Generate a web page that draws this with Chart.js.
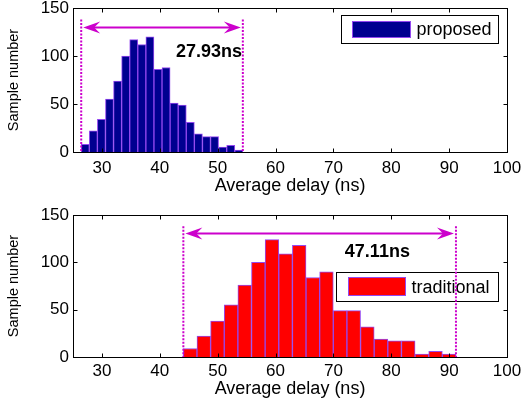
<!DOCTYPE html>
<html>
<head>
<meta charset="utf-8">
<script src="https://cdn.jsdelivr.net/npm/chart.js@4.4.1/dist/chart.umd.min.js"></script>
<style>
  html, body { margin: 0; padding: 0; background: #fff; }
  #wrap { position: relative; width: 521px; height: 402px; }
  canvas { position: absolute; left: 0; }
</style>
</head>
<body>
<div id="wrap">
  <canvas id="top" width="521" height="197" style="top:0"></canvas>
  <canvas id="bottom" width="521" height="202" style="top:200px"></canvas>
</div>
<script>
const xTicks = [30, 40, 50, 60, 70, 80, 90, 100];
const yTicks = [0, 50, 100, 150];

// 20 histogram bins per series, spread over the measured delay range
const proposedRange = [26.42, 54.35];
const proposedCounts = [8, 22, 34, 55, 74, 100, 117, 112, 120, 86, 88, 51, 49, 31, 19, 16, 16, 5, 7, 2];
const traditionalRange = [44.07, 91.18];
const traditionalCounts = [9, 22, 38, 55, 76, 100, 124, 109, 118, 84, 90, 49, 49, 32, 19, 17, 17, 3, 6, 3];

const FONT = "'Liberation Sans', Arial, sans-serif";
const MAGENTA = '#cc00cc';

function binPoints(range, counts) {
  const w = (range[1] - range[0]) / counts.length;
  return counts.map((c, i) => ({ x: range[0] + w * (i + 0.5), y: c }));
}

function line(ctx, x0, y0, x1, y1) {
  ctx.beginPath();
  ctx.moveTo(x0, y0);
  ctx.lineTo(x1, y1);
  ctx.stroke();
}

function arrowHead(ctx, tipX, y, dir) {
  // dir = -1 points left, +1 points right
  ctx.beginPath();
  ctx.moveTo(tipX, y);
  ctx.lineTo(tipX - dir * 17, y - 6);
  ctx.lineTo(tipX - dir * 11, y);
  ctx.lineTo(tipX - dir * 17, y + 6);
  ctx.closePath();
  ctx.fill();
}

const decor = {
  id: 'decor',
  afterDraw(chart, args, o) {
    const { ctx, chartArea: a, scales: { x, y } } = chart;
    ctx.save();

    // axes box with inward ticks
    ctx.strokeStyle = '#000';
    ctx.lineWidth = 1;
    const L = Math.round(a.left) + 0.5, R = Math.round(a.right) + 0.5;
    const T = Math.round(a.top) + 0.5, B = Math.round(a.bottom) + 0.5;
    ctx.strokeRect(L, T, R - L, B - T);
    x.ticks.forEach(t => {
      const px = Math.round(x.getPixelForValue(t.value)) + 0.5;
      line(ctx, px, B, px, B - 4);
      line(ctx, px, T, px, T + 4);
    });
    y.ticks.forEach(t => {
      const py = Math.round(y.getPixelForValue(t.value)) + 0.5;
      line(ctx, L, py, L + 4, py);
      line(ctx, R, py, R - 4, py);
    });

    // legend
    const ds = chart.data.datasets[0];
    const lg = o.legend;
    const bx = Math.round(a.right - lg.right - lg.w) + 0.5;
    const by = Math.round(a.top + lg.top) + 0.5;
    ctx.fillStyle = '#fff';
    ctx.fillRect(bx, by, lg.w, lg.h);
    ctx.strokeStyle = '#000';
    ctx.strokeRect(bx, by, lg.w, lg.h);
    ctx.fillStyle = ds.backgroundColor;
    ctx.fillRect(bx + lg.sx, by + lg.sy, lg.sw, lg.sh);
    ctx.strokeStyle = ds.borderColor;
    ctx.strokeRect(bx + lg.sx, by + lg.sy, lg.sw, lg.sh);
    ctx.fillStyle = '#000';
    ctx.font = '18px ' + FONT;
    ctx.textAlign = 'left';
    ctx.textBaseline = 'middle';
    ctx.fillText(ds.label, bx + lg.tx, by + lg.h / 2 + 1);

    // range marker
    const x0 = x.getPixelForValue(o.range[0]);
    const x1 = x.getPixelForValue(o.range[1]);
    const yTop = y.getPixelForValue(o.lineTop);
    const yArr = Math.round(y.getPixelForValue(o.arrowAt)) + 0.5;
    ctx.strokeStyle = MAGENTA;
    ctx.fillStyle = MAGENTA;
    ctx.lineWidth = 2;
    ctx.setLineDash([2, 1.5]);
    line(ctx, x0, yTop, x0, a.bottom);
    line(ctx, x1, yTop, x1, a.bottom);
    ctx.setLineDash([]);
    ctx.lineWidth = 1.8;
    line(ctx, x0 + 8, yArr, x1 - 8, yArr);
    arrowHead(ctx, x0 + 2, yArr, -1);
    arrowHead(ctx, x1 - 2, yArr, 1);

    ctx.fillStyle = '#000';
    ctx.font = 'bold 18px ' + FONT;
    ctx.textAlign = 'center';
    ctx.fillText((o.range[1] - o.range[0]).toFixed(2) + 'ns',
      x.getPixelForValue(o.textAt[0]), y.getPixelForValue(o.textAt[1]));

    ctx.restore();
  }
};

function makeChart(id, c) {
  return new Chart(document.getElementById(id), {
    type: 'bar',
    data: {
      datasets: [{
        label: c.label,
        data: binPoints(c.range, c.counts),
        backgroundColor: c.fill,
        borderColor: '#9448f0',
        borderWidth: 1,
        barPercentage: 1,
        categoryPercentage: 1
      }]
    },
    options: {
      responsive: false,
      animation: false,
      layout: { padding: { left: 0, right: 14, top: c.padTop, bottom: 0 } },
      plugins: {
        legend: { display: false },
        tooltip: { enabled: false },
        decor: {
          range: c.range,
          lineTop: 138,
          arrowAt: 130.5,
          textAt: c.textAt,
          legend: c.legend
        }
      },
      scales: {
        x: {
          type: 'linear',
          min: 25,
          max: 100,
          offset: false,
          afterBuildTicks: s => { s.ticks = xTicks.map(v => ({ value: v })); },
          afterFit: s => { s.height = 45; s.paddingLeft = 0; s.paddingRight = 0; },
          grid: { display: false, drawTicks: false, offset: false },
          border: { display: false },
          ticks: { font: { family: FONT, size: 17 }, color: '#000', padding: c.xPad, maxRotation: 0, autoSkip: false },
          title: {
            display: true, text: 'Average delay (ns)', color: '#000',
            font: { family: FONT, size: 18 }, padding: { top: 0, bottom: c.titlePad }
          }
        },
        y: {
          min: 0,
          max: 150,
          afterBuildTicks: s => { s.ticks = yTicks.map(v => ({ value: v })); },
          afterFit: s => { s.width = 73; s.paddingTop = 0; s.paddingBottom = 0; },
          grid: { display: false, drawTicks: false },
          border: { display: false },
          ticks: { font: { family: FONT, size: 17 }, color: '#000', padding: 4 },
          title: {
            display: true, text: 'Sample number', color: '#000',
            font: { family: FONT, size: 14.5 }, padding: { top: 5, bottom: 0 }
          }
        }
      }
    },
    plugins: [decor]
  });
}

makeChart('top', {
  label: 'proposed',
  range: proposedRange,
  counts: proposedCounts,
  fill: '#000090',
  padTop: 8,
  xPad: 6,
  titlePad: 0,
  textAt: [48.5, 104],
  legend: { right: 9, top: 7, w: 157, h: 28, sx: 11, sy: 6, sw: 58, sh: 16, tx: 75 }
});

makeChart('bottom', {
  label: 'traditional',
  range: traditionalRange,
  counts: traditionalCounts,
  fill: '#ff0000',
  padTop: 15,
  xPad: 4,
  titlePad: 2,
  textAt: [77.6, 111],
  legend: { right: 9, top: 57, w: 162, h: 29, sx: 12, sy: 5, sw: 57, sh: 18, tx: 75 }
});
</script>
</body>
</html>
